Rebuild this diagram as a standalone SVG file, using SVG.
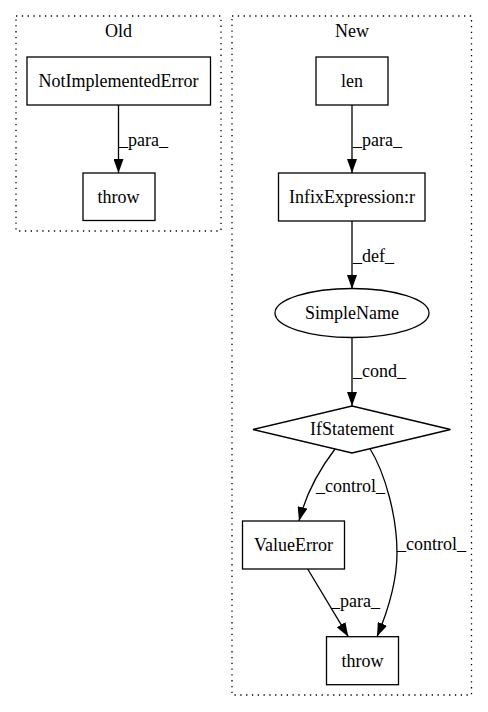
<svg xmlns="http://www.w3.org/2000/svg" width="488" height="712" viewBox="0 0 488 712">
<style>
text{font-family:"Liberation Serif","Times New Roman",serif;font-size:18px;fill:#000}
.c{text-anchor:middle}
.cl{fill:none;stroke:#000;stroke-dasharray:1.3,4.5;stroke-width:1.3}
.n{fill:#fff;stroke:#000;stroke-width:1.3}
.e{fill:none;stroke:#000;stroke-width:1.3;marker-end:url(#ah)}
</style>
<defs>
<marker id="ah" markerUnits="userSpaceOnUse" markerWidth="14" markerHeight="10" refX="14" refY="5" orient="auto" viewBox="0 0 14 10">
<path d="M0,0 L14,5 L0,10 z" fill="#000"/>
</marker>
</defs>
<rect width="488" height="712" fill="#fff"/>
<g id="cluster_old">
<rect class="cl" x="16" y="16" width="205" height="215"/>
<text class="c" x="118.5" y="37">Old</text>
</g>
<g id="cluster_new">
<rect class="cl" x="232" y="16" width="239.5" height="679"/>
<text class="c" x="352" y="37">New</text>
</g>
<g id="edges">
<path class="e" d="M118.5,105 L118.5,173"/>
<text x="119" y="146">_para_</text>
<path class="e" d="M352,105 L352,173"/>
<text x="353" y="146">_para_</text>
<path class="e" d="M352,221 L352,289"/>
<text x="353" y="262">_def_</text>
<path class="e" d="M352,337.5 L352,406"/>
<text x="353" y="377">_cond_</text>
<path class="e" d="M335,449 C322,466 307,490 299,521"/>
<text x="316" y="492">_control_</text>
<path class="e" d="M369,447 C386,474 397,518 397,553 C397,584 387,613 377,636.7"/>
<text x="397" y="550">_control_</text>
<path class="e" d="M307.7,569 L348.3,636.7"/>
<text x="331" y="607">_para_</text>
</g>
<g id="NotImplementedError">
<rect class="n" x="27" y="57" width="183.5" height="48"/>
<text class="c" x="118.5" y="87">NotImplementedError</text>
</g>
<g id="throw_old">
<rect class="n" x="83" y="173" width="72" height="47.5"/>
<text class="c" x="118.5" y="203">throw</text>
</g>
<g id="len">
<rect class="n" x="316" y="57" width="72" height="48"/>
<text class="c" x="352" y="87">len</text>
</g>
<g id="InfixExpression">
<rect class="n" x="278.5" y="173" width="146.5" height="48"/>
<text class="c" x="352" y="203">InfixExpression:r</text>
</g>
<g id="SimpleName">
<ellipse class="n" cx="352" cy="313" rx="77" ry="24.5"/>
<text class="c" x="352" y="319">SimpleName</text>
</g>
<g id="IfStatement">
<polygon class="n" points="352,406 450.5,429.5 352,453 253,429.5"/>
<text class="c" x="352" y="435">IfStatement</text>
</g>
<g id="ValueError">
<rect class="n" x="242.5" y="521" width="102" height="48"/>
<text class="c" x="293.5" y="551">ValueError</text>
</g>
<g id="throw_new">
<rect class="n" x="326.5" y="636.7" width="72" height="48"/>
<text class="c" x="362.5" y="666.5">throw</text>
</g>
</svg>
